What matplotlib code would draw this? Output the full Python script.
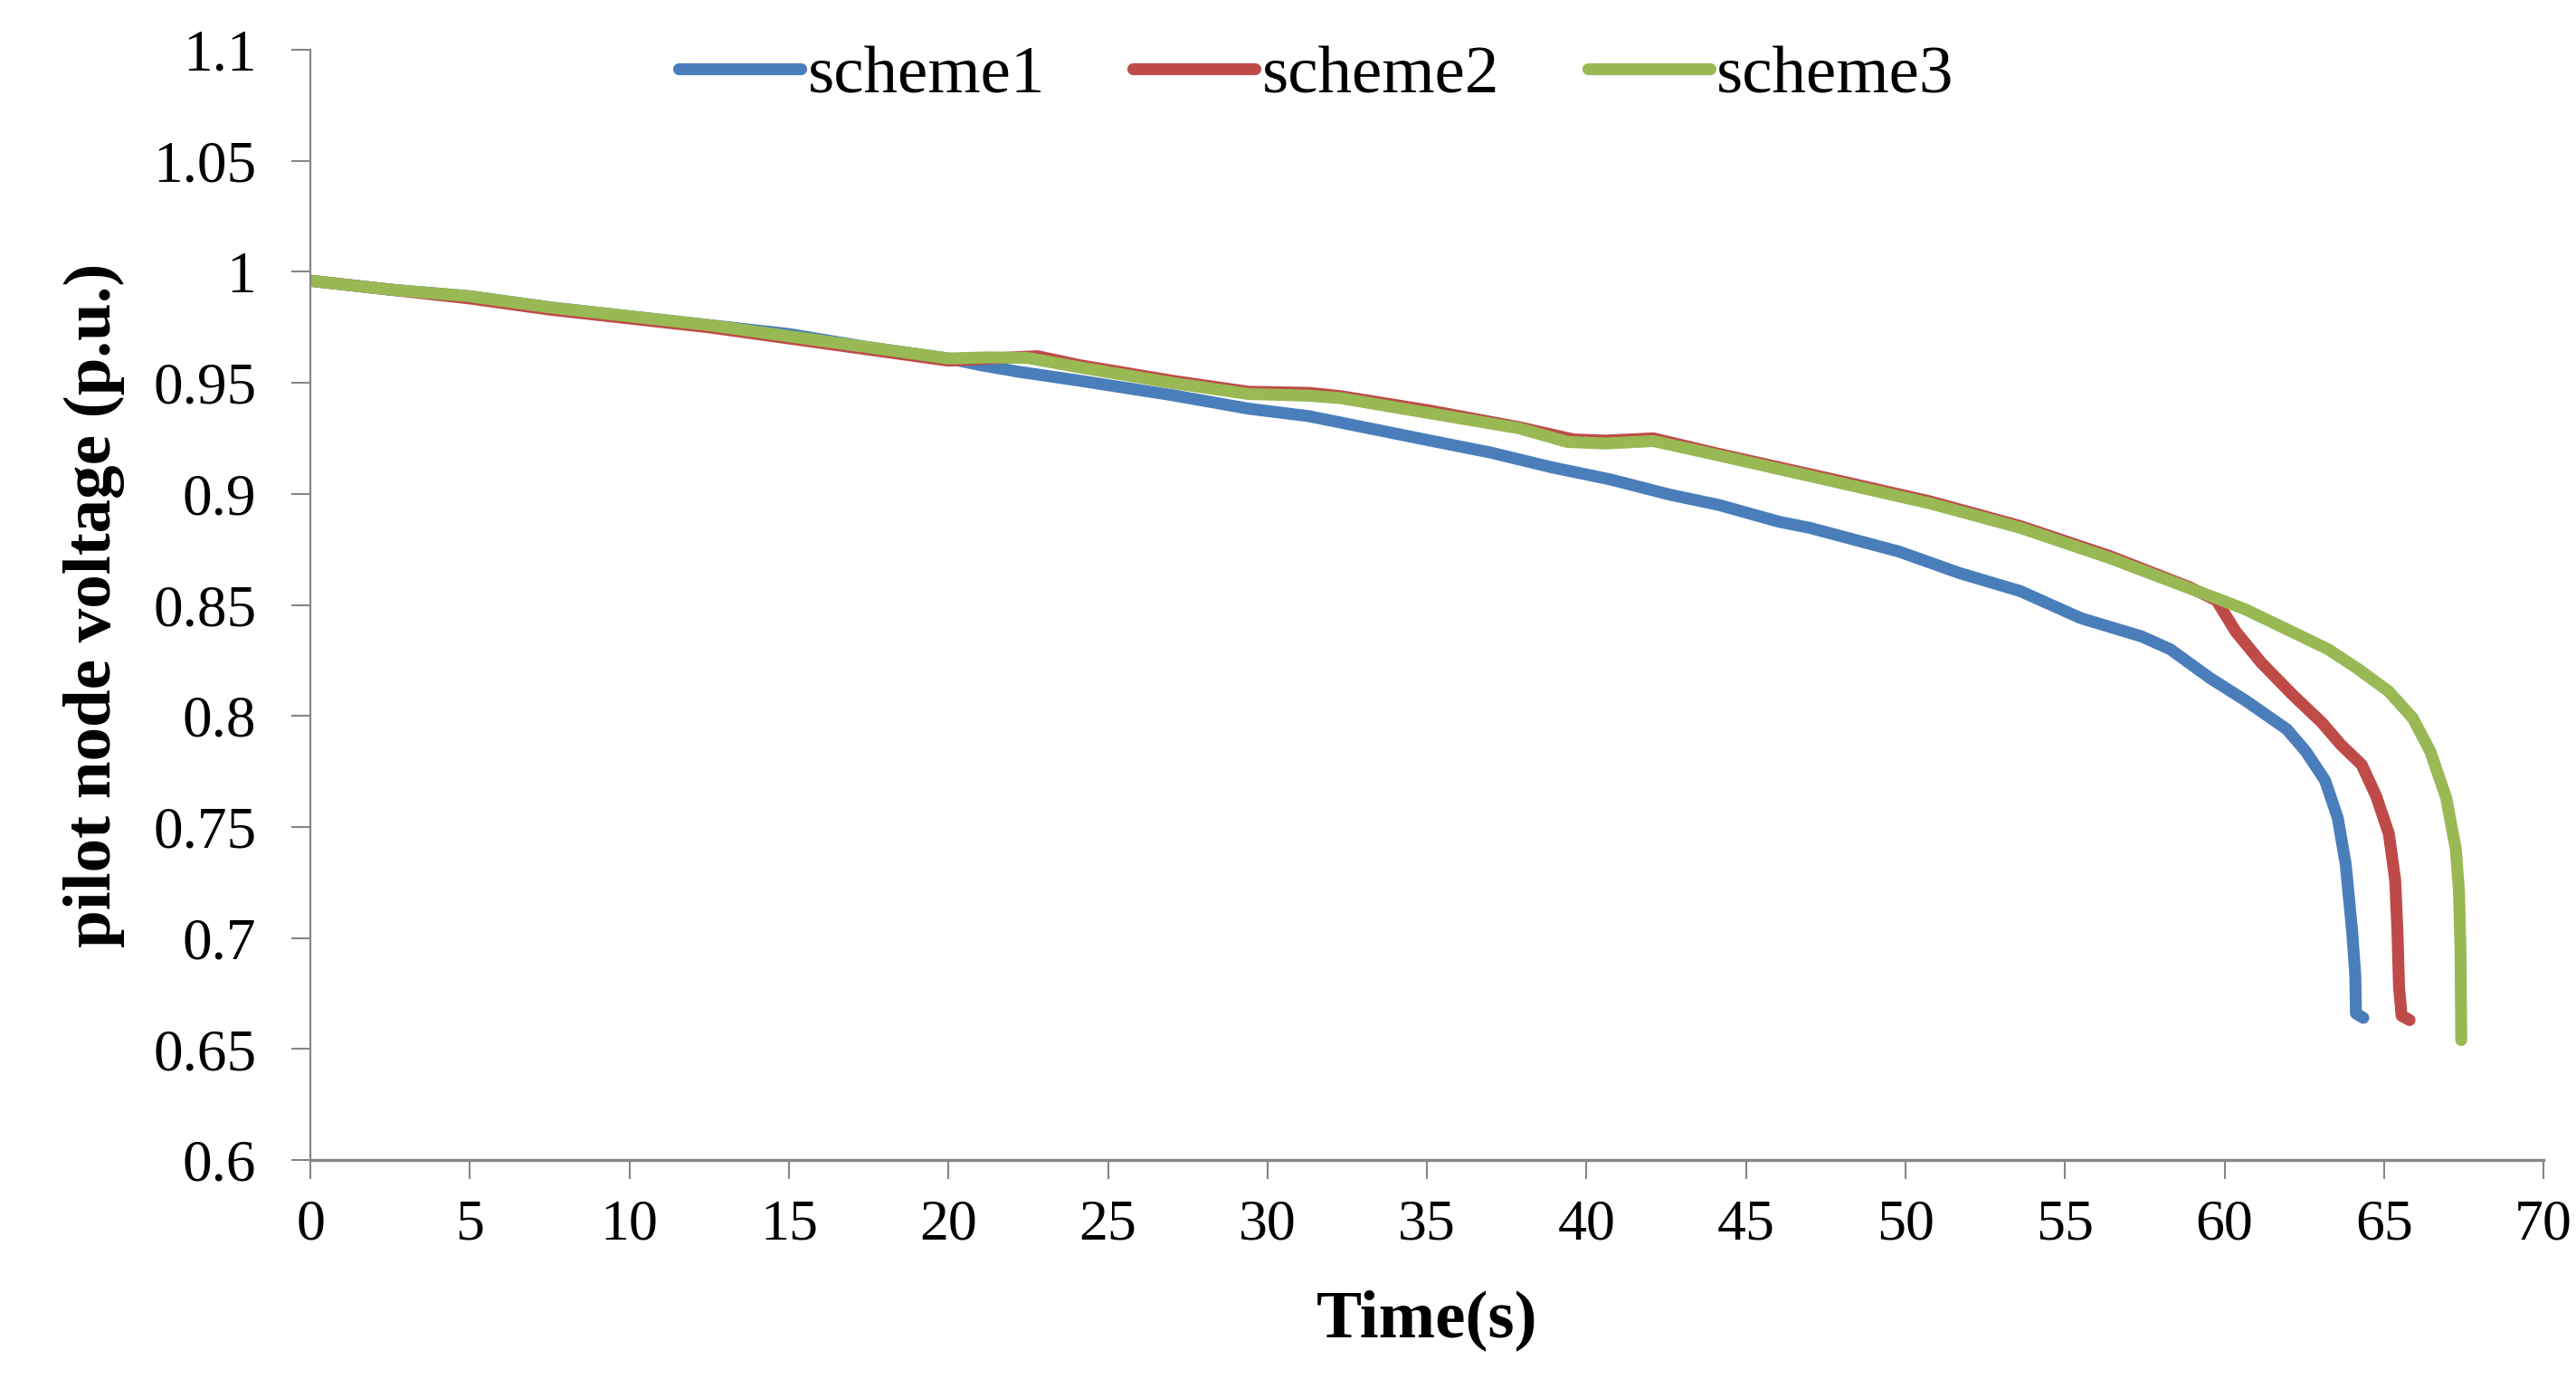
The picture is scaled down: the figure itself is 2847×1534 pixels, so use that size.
import matplotlib
matplotlib.use("Agg")
import matplotlib.pyplot as plt

t1 = [0, 2.5, 5, 7.5, 10, 12.5, 15, 17.5, 20, 21, 22.2, 24.1, 27, 29.4, 31.3, 33.2, 35.1, 37.0, 38.9,
      40.75, 42.6, 44.15, 46.05, 47.0, 49.8, 51.7, 53.6, 55.5, 57.4, 58.3, 59.55, 60.65, 61.95, 62.55,
      63.15, 63.55, 63.8, 64.0, 64.1, 64.12, 64.35]
v1 = [0.996, 0.992, 0.989, 0.984, 0.980, 0.976, 0.972, 0.966, 0.961, 0.958, 0.955, 0.951, 0.9445, 0.9384,
      0.935, 0.9295, 0.924, 0.9186, 0.912, 0.9065, 0.8997, 0.895, 0.8874, 0.8847, 0.874, 0.8643, 0.8562,
      0.844, 0.8358, 0.830, 0.817, 0.807, 0.794, 0.784, 0.771, 0.754, 0.733, 0.703, 0.683, 0.666, 0.664]

t2 = [0, 2.5, 5, 7.5, 10, 12.5, 15, 17.5, 20, 21.3, 22.8, 24.1, 27, 29.4, 31.3, 32.3, 35.1, 37.9, 39.6,
      40.6, 42.1, 44.15, 47.9, 50.8, 53.6, 56.4, 58.9, 59.75, 60.35, 61.15, 62.1, 63.05, 63.65, 64.3,
      64.75, 65.15, 65.35, 65.42, 65.47, 65.55, 65.8]
v2 = [0.996, 0.992, 0.988, 0.983, 0.979, 0.975, 0.970, 0.965, 0.960, 0.961, 0.962, 0.958, 0.951, 0.946,
      0.9455, 0.944, 0.9375, 0.930, 0.9245, 0.924, 0.925, 0.918, 0.906, 0.8965, 0.8855, 0.872, 0.858,
      0.852, 0.838, 0.824, 0.810, 0.797, 0.787, 0.778, 0.764, 0.747, 0.726, 0.703, 0.678, 0.665, 0.663]

t3 = [0, 2.5, 5, 7.5, 10, 12.5, 15, 17.5, 20, 21.3, 22.5, 24.1, 27, 29.4, 31.3, 32.3, 35.1, 37.9, 39.4,
      40.6, 42.1, 44.15, 47.9, 50.8, 53.6, 56.4, 58.9, 59.75, 60.65, 62.1, 63.25, 64.2, 65.15, 65.9,
      66.45, 66.95, 67.25, 67.35, 67.4, 67.42]
v3 = [0.996, 0.992, 0.989, 0.984, 0.980, 0.976, 0.971, 0.966, 0.961, 0.9615, 0.9612, 0.957, 0.950, 0.945,
      0.9442, 0.9431, 0.9363, 0.9295, 0.9234, 0.9227, 0.9238, 0.9173, 0.9051, 0.8956, 0.8847, 0.8711,
      0.8575, 0.853, 0.848, 0.838, 0.830, 0.821, 0.811, 0.799, 0.784, 0.763, 0.740, 0.721, 0.692, 0.654]

x_ticks = list(range(0, 75, 5))
y_ticks = [0.6, 0.65, 0.7, 0.75, 0.8, 0.85, 0.9, 0.95, 1, 1.05, 1.1]
y_tick_labels = ["0.6", "0.65", "0.7", "0.75", "0.8", "0.85", "0.9", "0.95", "1", "1.05", "1.1"]

plt.rcParams['font.family'] = ['Liberation Serif', 'DejaVu Serif']
gray = '#868686'

fig = plt.figure(figsize=(28.47, 15.34), dpi=100)
ax = fig.add_axes([0.1205, 0.1643, 0.8669, 0.7998])

style = dict(lw=9.5, solid_capstyle='round', solid_joinstyle='round')
ax.plot(t1, v1, color='#4A7EBB', label='scheme1', **style)
ax.plot(t2, v2, color='#BE4B48', label='scheme2', **style)
ax.plot(t3, v3, color='#98B954', label='scheme3', **style)

ax.set_xlim(0, 70)
ax.set_ylim(0.6, 1.1)
ax.set_xticks(x_ticks)
ax.set_yticks(y_ticks)
ax.set_yticklabels(y_tick_labels)

for s in ['top', 'right']:
    ax.spines[s].set_visible(False)
ax.spines['left'].set_color(gray)
ax.spines['left'].set_linewidth(1.6)
ax.spines['bottom'].set_color(gray)
ax.spines['bottom'].set_linewidth(2.4)

ax.tick_params(axis='both', direction='out', length=15, width=1.5, color=gray)
ax.tick_params(axis='y', labelsize=47, pad=28)
ax.tick_params(axis='x', labelsize=46, pad=16)

ax.set_xlabel('Time(s)', fontsize=54, fontweight='bold')
ax.set_ylabel('pilot node voltage (p.u.)', fontsize=54, fontweight='bold')
ax.xaxis.set_label_coords(0.5, -0.1165)
ax.yaxis.set_label_coords(-0.083, 0.5)

fig.legend(loc='center', bbox_to_anchor=(0.511, 0.945), ncol=3, frameon=False, fontsize=54,
           handlelength=1.8, handletextpad=0.1, columnspacing=1.3)

fig.savefig('out.png', dpi=100)
